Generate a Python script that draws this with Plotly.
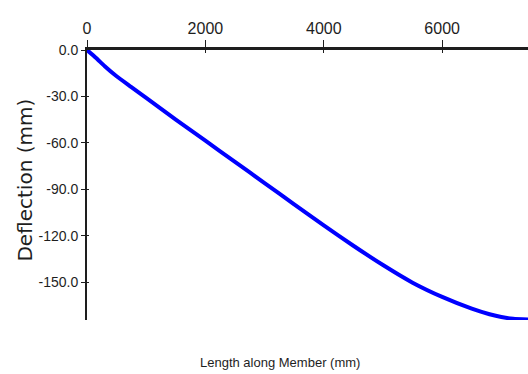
import plotly.graph_objects as go

# Data
length_mm = [0, 150, 300, 500, 750, 1000, 1500, 2000, 2500, 3000, 3500, 4000,
             4500, 5000, 5500, 6000, 6500, 6800, 7000, 7200, 7450]
deflection_mm = [0, -5, -10.5, -17, -24, -31, -45, -58.6, -72.3, -86, -99.8, -113.4,
                 -126.5, -139, -150.4, -159.6, -167.2, -170.8, -172.6, -173.7, -174.2]

x_tickvals = [0, 2000, 4000, 6000]
x_ticktext = ["0", "2000", "4000", "6000"]
y_tickvals = [0, -30, -60, -90, -120, -150]
y_ticktext = ["0.0", "-30.0", "-60.0", "-90.0", "-120.0", "-150.0"]

x_title = "Length along Member (mm)"
y_title = "Deflection (mm)"

narrow = "Liberation Sans Narrow, Arial Narrow, Liberation Sans, Arial, sans-serif"
ink = "#1e1e1e"

fig = go.Figure()
fig.add_trace(go.Scatter(
    x=length_mm, y=deflection_mm, mode="lines",
    line=dict(color="#0000ff", width=4, shape="spline", smoothing=0.5),
    showlegend=False, hoverinfo="skip",
))
# invisible trace for the second (inside-tick) axes
fig.add_trace(go.Scatter(x=[0], y=[0], xaxis="x2", yaxis="y2",
                         mode="markers", marker=dict(opacity=0),
                         showlegend=False, hoverinfo="skip"))

fig.update_layout(
    width=528, height=374,
    margin=dict(l=87, r=0, t=50, b=54),
    paper_bgcolor="white", plot_bgcolor="white",
    xaxis=dict(
        side="top", range=[0, 7450],
        tickvals=x_tickvals, ticktext=x_ticktext,
        ticks="outside", ticklen=7, tickwidth=1, tickcolor=ink,
        showline=True, linewidth=3, linecolor=ink,
        showgrid=False, zeroline=False,
        tickfont=dict(family=narrow, size=16, color=ink),
    ),
    yaxis=dict(
        range=[-174.5, 0],
        tickvals=y_tickvals, ticktext=y_ticktext,
        ticks="outside", ticklen=4, tickwidth=1, tickcolor=ink,
        showline=True, linewidth=2, linecolor=ink,
        showgrid=False, zeroline=False,
        tickfont=dict(family=narrow, size=14, color=ink),
    ),
    xaxis2=dict(
        overlaying="x", side="top", range=[0, 7450],
        tickvals=x_tickvals, showticklabels=False,
        ticks="inside", ticklen=3, tickwidth=1, tickcolor=ink,
        showline=False, showgrid=False, zeroline=False,
    ),
    yaxis2=dict(
        overlaying="y", side="left", range=[-174.5, 0],
        tickvals=y_tickvals, showticklabels=False,
        ticks="inside", ticklen=2, tickwidth=1, tickcolor=ink,
        showline=False, showgrid=False, zeroline=False,
    ),
    annotations=[
        dict(text=y_title, xref="paper", yref="paper", x=-0.1406, y=0.52,
             textangle=-90, showarrow=False, xanchor="center", yanchor="middle",
             font=dict(family="DejaVu Sans, Verdana, sans-serif", size=20, color=ink)),
        dict(text=x_title, xref="paper", yref="paper", x=0.4376, y=-0.1556,
             showarrow=False, xanchor="center", yanchor="middle",
             font=dict(family=narrow, size=13, color=ink)),
    ],
)

fig.write_html("out.html", config={"displayModeBar": False},
               post_script="document.body.style.margin='0px';document.body.style.overflow='hidden';")
